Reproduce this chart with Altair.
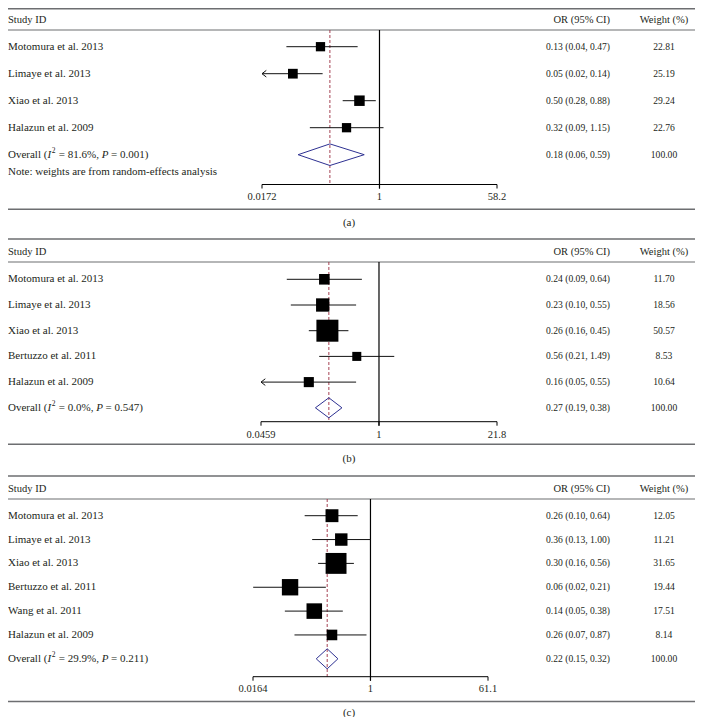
import altair as alt
import pandas as pd

# ---------------- data ----------------
header_labels = ["Study ID", "OR (95% CI)", "Weight (%)"]
note_text = "Note: weights are from random-effects analysis"
captions = ["(a)", "(b)", "(c)"]
null_value = 1

studies_a = ["Motomura et al. 2013", "Limaye et al. 2013", "Xiao et al. 2013", "Halazun et al. 2009"]
or_a = [0.13, 0.05, 0.50, 0.32]
lo_a = [0.04, 0.0165, 0.28, 0.09]
hi_a = [0.47, 0.14, 0.88, 1.15]
weight_a = [22.81, 25.19, 29.24, 22.76]
overall_a = [0.18, 0.06, 0.59]
i2_a = "81.6%"
p_a = "0.001"
ticks_a = [0.0172, 1, 58.2]
ticklabels_a = ["0.0172", "1", "58.2"]

studies_b = ["Motomura et al. 2013", "Limaye et al. 2013", "Xiao et al. 2013",
             "Bertuzzo et al. 2011", "Halazun et al. 2009"]
or_b = [0.24, 0.23, 0.26, 0.56, 0.16]
lo_b = [0.09, 0.10, 0.16, 0.21, 0.0452]
hi_b = [0.64, 0.55, 0.45, 1.49, 0.55]
weight_b = [11.70, 18.56, 50.57, 8.53, 10.64]
overall_b = [0.27, 0.19, 0.38]
i2_b = "0.0%"
p_b = "0.547"
ticks_b = [0.0459, 1, 21.8]
ticklabels_b = ["0.0459", "1", "21.8"]

studies_c = ["Motomura et al. 2013", "Limaye et al. 2013", "Xiao et al. 2013",
             "Bertuzzo et al. 2011", "Wang et al. 2011", "Halazun et al. 2009"]
or_c = [0.26, 0.36, 0.30, 0.06, 0.14, 0.26]
lo_c = [0.10, 0.13, 0.16, 0.0165, 0.05, 0.07]
hi_c = [0.64, 1.00, 0.56, 0.21, 0.38, 0.87]
weight_c = [12.05, 11.21, 31.65, 19.44, 17.51, 8.14]
overall_c = [0.22, 0.15, 0.32]
i2_c = "29.9%"
p_c = "0.211"
ticks_c = [0.0164, 1, 61.1]
ticklabels_c = ["0.0164", "1", "61.1"]

# ---------------- style / layout ----------------
W, H = 687, 709
FONT = "Liberation Serif"
TXT = "#231f20"
RULE = "#6d6e71"
NAVY = "#2e3192"
DASH = "#9b2d3f"

panels = [
    dict(studies=studies_a, orv=or_a, lo=lo_a, hi=hi_a, wt=weight_a, overall=overall_a,
         i2=i2_a, p=p_a, ticks=ticks_a, ticklabels=ticklabels_a, caption=captions[0], note=True,
         top=0.75, header=11.5, hrule=22, row0=38.7, step=27.0, note_y=164, axis=176.5,
         labels=189, bottom=201.3, cap=215.3, xrange=[254, 489], k2=3.77, dh=0.4),
    dict(studies=studies_b, orv=or_b, lo=lo_b, hi=hi_b, wt=weight_b, overall=overall_b,
         i2=i2_b, p=p_b, ticks=ticks_b, ticklabels=ticklabels_b, caption=captions[1], note=False,
         top=231, header=243.5, hrule=254, row0=271.3, step=25.7, note_y=None, axis=413.7,
         labels=426.5, bottom=436.3, cap=450.5, xrange=[253, 489], k2=9.57, dh=0.39),
    dict(studies=studies_c, orv=or_c, lo=lo_c, hi=hi_c, wt=weight_c, overall=overall_c,
         i2=i2_c, p=p_c, ticks=ticks_c, ticklabels=ticklabels_c, caption=captions[2], note=False,
         top=468, header=480.5, hrule=491, row0=507.7, step=23.85, note_y=None, axis=668.7,
         labels=681, bottom=693.5, cap=705, xrange=[245, 480], k2=13.8, dh=0.42),
]

NAME_X, OR_X, WT_X, CAP_X = 0, 602, 656, 341
FS_NAME, FS_NUM, FS_HEAD, FS_TICK = 11, 9.6, 10.5, 10.5

# Times / Liberation Serif advance widths (per 1000 em)
TW = {' ': 250, '(': 333, ')': 333, '=': 564, '%': 833, ',': 250, '.': 250,
      'O': 722, 'v': 500, 'e': 444, 'r': 333, 'a': 444, 'l': 278}
for d in "0123456789":
    TW[d] = 500
ITW = {'I': 333, 'P': 611}


def tw(s, size, italic=False):
    tab = ITW if italic else TW
    return sum(tab.get(c, TW.get(c, 500)) for c in s) * size / 1000.0


one = pd.DataFrame({"k": [0]})


def hrule(y, width=1.5, color=RULE):
    return alt.Chart(one).mark_rule(color=color, strokeWidth=width).encode(
        x=alt.value(0), x2=alt.value(W), y=alt.value(y))


def text_at(s, x, y, align="left", size=FS_NAME, style="normal"):
    return alt.Chart(one).mark_text(align=align, baseline="middle", font=FONT, fontSize=size,
                                    fontStyle=style, color=TXT).encode(
        x=alt.value(x), y=alt.value(y), text=alt.value(s))


def build(p):
    n = len(p["studies"])
    tmin, tmax = p["ticks"][0], p["ticks"][-1]
    xs = alt.Scale(type="log", domain=[tmin, tmax], range=p["xrange"], nice=False, zero=False)
    ys = alt.Scale(domain=[0, 1], range=[p["row0"], p["row0"] + p["step"]], nice=False, zero=False)

    def X(f):
        return alt.X(f, type="quantitative", scale=xs, axis=None)

    def Y(f):
        return alt.Y(f, type="quantitative", scale=ys, axis=None)

    rows = pd.DataFrame({
        "name": p["studies"], "orv": p["orv"], "lo": p["lo"], "hi": p["hi"], "w": p["wt"],
        "i": list(range(n)),
    })
    rows["lo_draw"] = rows["lo"].clip(lower=tmin)
    rows["arrow"] = rows["lo"] < tmin
    rows["ci"] = [f"{o:.2f} ({l:.2f}, {h:.2f})" for o, l, h in zip(rows.orv, rows.lo, rows.hi)]
    rows["wt"] = [f"{w:.2f}" for w in rows.w]

    est, olo, ohi = p["overall"]
    ov = pd.DataFrame({"i": [n], "ci": [f"{est:.2f} ({olo:.2f}, {ohi:.2f})"], "wt": [f"{100:.2f}"],
                       "est": [est]})
    dia = pd.DataFrame({"x": [olo, est, ohi, est, olo],
                        "y": [n, n - p["dh"], n, n + p["dh"], n],
                        "k": [0, 1, 2, 3, 4]})
    ref = pd.DataFrame({"x": [null_value]})
    tk = pd.DataFrame({"t": p["ticks"], "lab": p["ticklabels"]})
    ax = pd.DataFrame({"a": [tmin], "b": [tmax]})

    L = []
    # structural rules
    L.append(hrule(p["top"], 1.6))
    L.append(hrule(p["hrule"], 1.2))
    L.append(hrule(p["bottom"], 1.6))
    # headers
    L.append(text_at(header_labels[0], NAME_X, p["header"], size=FS_HEAD))
    L.append(text_at(header_labels[1], OR_X, p["header"], align="right", size=FS_HEAD))
    L.append(text_at(header_labels[2], WT_X, p["header"], align="center", size=FS_HEAD))
    # reference line at 1 and dashed overall line
    L.append(alt.Chart(ref).mark_rule(color="#000000", strokeWidth=1.2).encode(
        x=X("x"), y=alt.value(p["hrule"]), y2=alt.value(p["axis"] + 4)))
    L.append(alt.Chart(ov).mark_rule(color=DASH, strokeWidth=0.9, strokeDash=[3, 2]).encode(
        x=X("est"), y=alt.value(p["hrule"]), y2=alt.value(p["axis"])))
    # CI lines
    L.append(alt.Chart(rows).mark_rule(color="#111111", strokeWidth=1).encode(
        x=X("lo_draw"), x2="hi", y=Y("i")))
    # arrows for truncated CIs
    arr = rows[rows["arrow"]]
    if len(arr):
        L.append(alt.Chart(arr).mark_point(shape="M 1.3 -1 L 0 0 L 1.3 1", filled=False,
                                           color="#111111", strokeWidth=1, size=44, opacity=1).encode(
            x=X("lo_draw"), y=Y("i")))
    # squares
    L.append(alt.Chart(rows).mark_point(shape="square", filled=True, color="#000000", opacity=1).encode(
        x=X("orv"), y=Y("i"),
        size=alt.Size("w:Q", scale=alt.Scale(domain=[0, 100], range=[0, p["k2"] * 100]), legend=None)))
    # diamond
    L.append(alt.Chart(dia).mark_line(color=NAVY, strokeWidth=1).encode(
        x=X("x"), y=Y("y"), order="k:Q"))
    # study text columns
    L.append(alt.Chart(rows).mark_text(align="left", baseline="middle", font=FONT, fontSize=FS_NAME,
                                       color=TXT).encode(x=alt.value(NAME_X), y=Y("i"), text="name:N"))
    L.append(alt.Chart(rows).mark_text(align="right", baseline="middle", font=FONT, fontSize=FS_NUM,
                                       color=TXT).encode(x=alt.value(OR_X), y=Y("i"), text="ci:N"))
    L.append(alt.Chart(rows).mark_text(align="center", baseline="middle", font=FONT, fontSize=FS_NUM,
                                       color=TXT).encode(x=alt.value(WT_X), y=Y("i"), text="wt:N"))
    L.append(alt.Chart(ov).mark_text(align="right", baseline="middle", font=FONT, fontSize=FS_NUM,
                                     color=TXT).encode(x=alt.value(OR_X), y=Y("i"), text="ci:N"))
    L.append(alt.Chart(ov).mark_text(align="center", baseline="middle", font=FONT, fontSize=FS_NUM,
                                     color=TXT).encode(x=alt.value(WT_X), y=Y("i"), text="wt:N"))
    # overall label with italic I, P and superscript 2
    segs = [("Overall (", "normal"), ("I", "italic"), ("2", "sup"),
            (f" = {p['i2']}, ", "normal"), ("P", "italic"), (f" = {p['p']})", "normal")]
    cx = NAME_X
    for s, st in segs:
        size = 7.5 if st == "sup" else FS_NAME
        lead = len(s) - len(s.lstrip())
        xdraw = cx + tw(s[:lead], size)
        dy = -4 if st == "sup" else 0
        L.append(alt.Chart(ov).mark_text(align="left", baseline="middle", font=FONT, fontSize=size,
                                         fontStyle="italic" if st == "italic" else "normal",
                                         dy=dy, color=TXT).encode(
            x=alt.value(xdraw + (0.8 if st == "sup" else 0)), y=Y("i"), text=alt.value(s.strip())))
        cx += tw(s, size, italic=(st == "italic")) + (1.2 if st == "sup" else 0)
    if p["note"]:
        L.append(text_at(note_text, NAME_X, p["note_y"]))
    # x axis (drawn)
    L.append(alt.Chart(ax).mark_rule(color="#000000", strokeWidth=1).encode(
        x=X("a"), x2="b", y=alt.value(p["axis"])))
    L.append(alt.Chart(tk).mark_rule(color="#000000", strokeWidth=1).encode(
        x=X("t"), y=alt.value(p["axis"]), y2=alt.value(p["axis"] + 4)))
    L.append(alt.Chart(tk).mark_text(align="center", baseline="middle", font=FONT, fontSize=FS_TICK,
                                     color=TXT).encode(x=X("t"), y=alt.value(p["labels"]), text="lab:N"))
    # caption
    L.append(text_at(p["caption"], CAP_X, p["cap"], align="center"))
    return L


layers = []
for pnl in panels:
    layers += build(pnl)

chart = alt.layer(*layers).resolve_scale(
    x="independent", y="independent", size="independent"
).properties(
    width=W, height=H, padding=0, autosize=alt.AutoSizeParams(type="none")
).configure_view(stroke=None)

chart.save("out.html", embed_options={"renderer": "svg", "actions": False})
